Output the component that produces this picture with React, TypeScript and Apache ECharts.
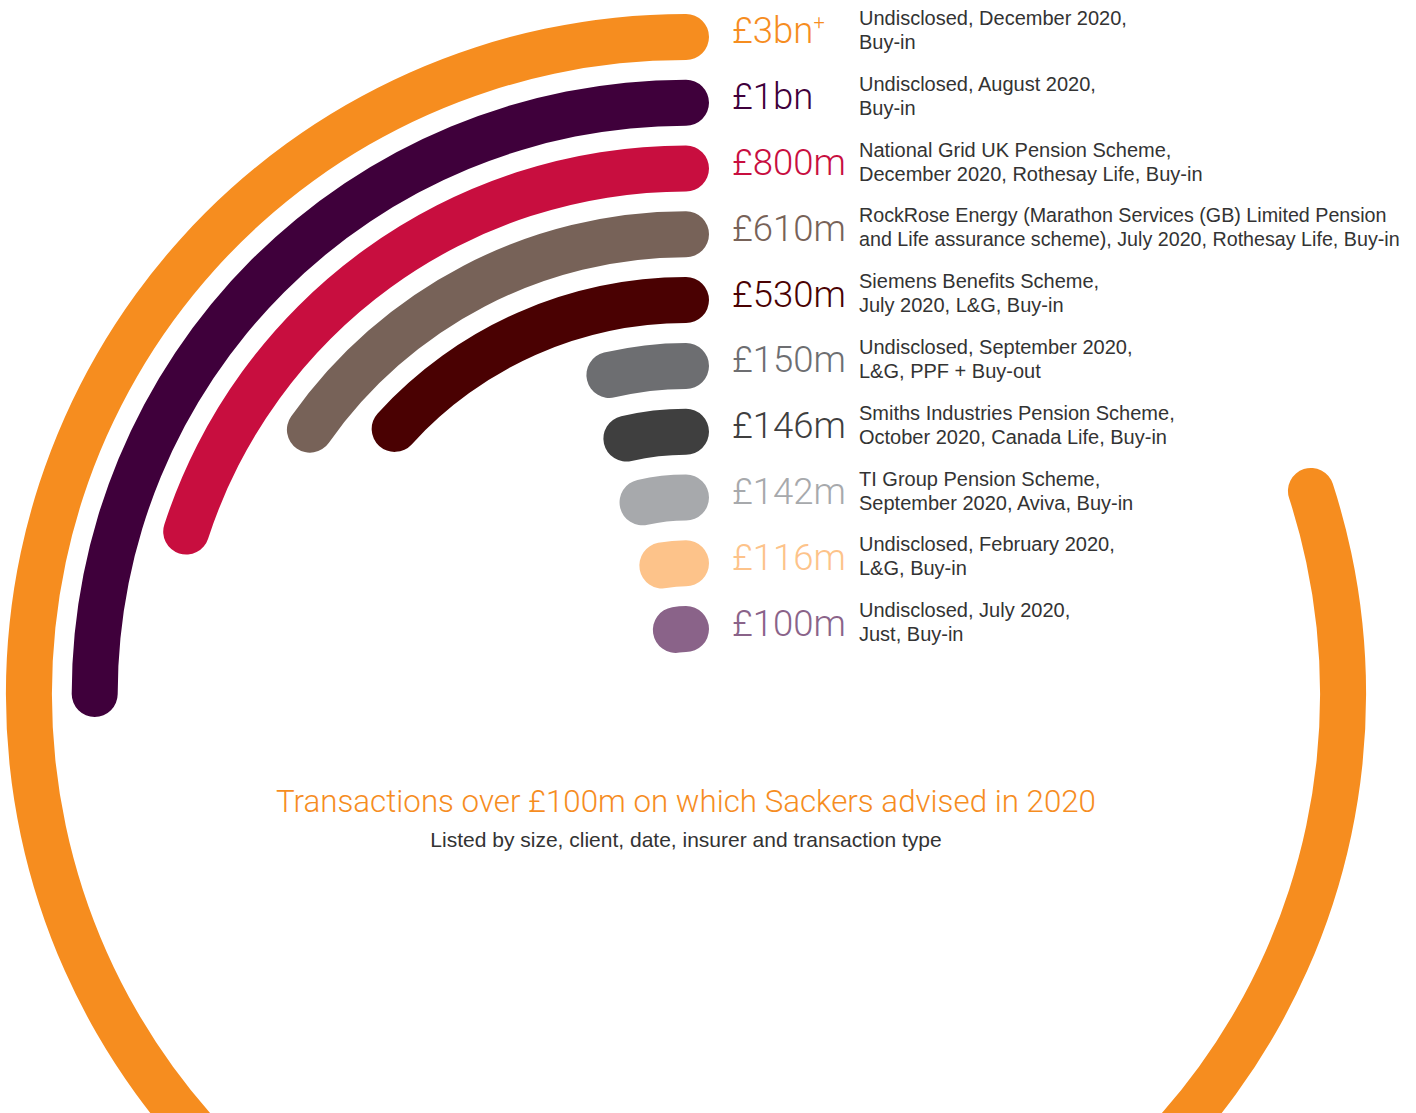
import React, { useEffect, useRef } from "react";
import * as echarts from "echarts";

// Inner → outer
const categories = ["£100m", "£116m", "£142m", "£146m", "£150m", "£530m", "£610m", "£800m", "£1bn", "£3bn+"];
const values = [100, 116, 142, 146, 150, 530, 610, 800, 1000, 3200];
const colors = ["#8A6389", "#FDC38A", "#A7A9AC", "#3F3F3F", "#6D6E71", "#4A0102", "#776258", "#C80E3F", "#3F003B", "#F68D1F"];
const descriptions = [
  "Undisclosed, July 2020,\nJust, Buy-in",
  "Undisclosed, February 2020,\nL&G, Buy-in",
  "TI Group Pension Scheme,\nSeptember 2020, Aviva, Buy-in",
  "Smiths Industries Pension Scheme,\nOctober 2020, Canada Life, Buy-in",
  "Undisclosed, September 2020,\nL&G, PPF + Buy-out",
  "Siemens Benefits Scheme,\nJuly 2020, L&G, Buy-in",
  "RockRose Energy (Marathon Services (GB) Limited Pension\nand Life assurance scheme), July 2020, Rothesay Life, Buy-in",
  "National Grid UK Pension Scheme,\nDecember 2020, Rothesay Life, Buy-in",
  "Undisclosed, August 2020,\nBuy-in",
  "Undisclosed, December 2020,\nBuy-in",
];
const title = "Transactions over £100m on which Sackers advised in 2020";
const subtitle = "Listed by size, client, date, insurer and transaction type";

const FONT = "'Liberation Sans', Arial, sans-serif";
const LIGHT = "Roboto, 'Liberation Sans', Arial, sans-serif";

export default function App() {
  const ref = useRef<HTMLDivElement>(null);
  useEffect(() => {
    document.body.style.margin = "0";
    if (!ref.current) return;
    const chart = echarts.init(ref.current, undefined, { renderer: "svg" });
    const cx = 686, cy = 694, r0 = 32, r1 = 690;
    chart.setOption({
      animation: false,
      backgroundColor: "#ffffff",
      polar: { center: [cx, cy], radius: [r0, r1] },
      angleAxis: {
        type: "value", min: 0, max: 4000, startAngle: 90, clockwise: false,
        show: false, splitLine: { show: false },
      },
      radiusAxis: { type: "category", data: categories, show: false },
      series: [
        {
          type: "bar",
          coordinateSystem: "polar",
          roundCap: true,
          barWidth: 46,
          data: values.map((v, i) => ({ value: v, itemStyle: { color: colors[i] } })),
        },
      ],
    });
    const band = (r1 - r0) / categories.length;
    const graphics: any[] = [];
    categories.forEach((c, i) => {
      let y = cy - (r0 + (i + 0.5) * band);
      try {
        const p = chart.convertToPixel({ polarIndex: 0 } as any, [i, 0]) as any;
        if (p && isFinite(p[1])) y = p[1];
      } catch (e) {}
      const isPlus = c.endsWith("+");
      graphics.push({
        type: "text",
        x: 732,
        y: y - 6,
        style: {
          text: isPlus ? `{a|${c.slice(0, -1)}}{s|+}` : `{a|${c}}`,
          rich: {
            a: { fontSize: 36.5, fontFamily: LIGHT, fill: colors[i], fontWeight: 300 },
            s: { fontSize: 20, fontFamily: LIGHT, fill: colors[i], fontWeight: 300, verticalAlign: "top", padding: [0, 0, 14, 0] },
          },
          verticalAlign: "middle",
          align: "left",
        },
      });
      graphics.push({
        type: "text",
        x: 859,
        y: y - 7,
        style: {
          text: descriptions[i],
          fontSize: i === 6 ? 19.7 : 20,
          lineHeight: 24,
          fontFamily: FONT,
          fill: "#333333",
          verticalAlign: "middle",
          align: "left",
        },
      });
    });
    graphics.push({
      type: "text", x: cx, y: 801,
      style: { text: title, fontSize: 31.3, fontFamily: LIGHT, fontWeight: 300, fill: "#F68D1F", align: "center", verticalAlign: "middle" },
    });
    graphics.push({
      type: "text", x: cx, y: 839,
      style: { text: subtitle, fontSize: 21, fontFamily: FONT, fill: "#333333", align: "center", verticalAlign: "middle" },
    });
    chart.setOption({ graphic: graphics });
    return () => chart.dispose();
  }, []);
  return <div ref={ref} style={{ width: 1416, height: 1113 }} />;
}
